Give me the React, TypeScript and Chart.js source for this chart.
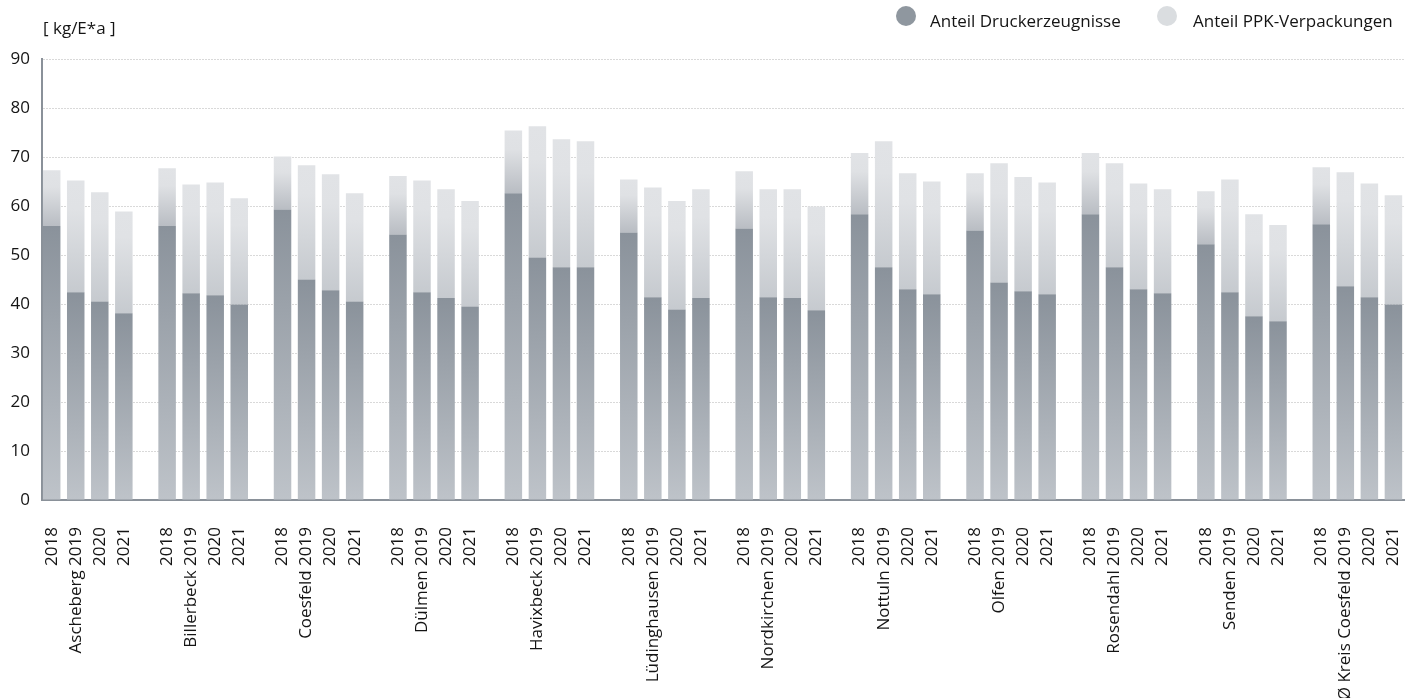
import React, { useEffect, useRef } from 'react';
import { Chart, registerables } from 'chart.js';

Chart.register(...registerables);

const groups = [
  'Ascheberg', 'Billerbeck', 'Coesfeld', 'Dülmen', 'Havixbeck', 'Lüdinghausen',
  'Nordkirchen', 'Nottuln', 'Olfen', 'Rosendahl', 'Senden', 'Ø Kreis Coesfeld',
];
const years = ['2018', '2019', '2020', '2021'];

// Anteil Druckerzeugnisse [kg/E*a], one value per municipality
const druck2018 = [55.9, 55.9, 59.3, 54.2, 62.6, 54.6, 55.4, 58.3, 55.0, 58.3, 52.2, 56.3];
const druck2019 = [42.4, 42.2, 45.0, 42.4, 49.5, 41.4, 41.4, 47.5, 44.4, 47.5, 42.4, 43.6];
const druck2020 = [40.5, 41.8, 42.8, 41.2, 47.5, 38.9, 41.2, 43.0, 42.6, 43.0, 37.5, 41.4];
const druck2021 = [38.1, 39.9, 40.5, 39.5, 47.5, 41.2, 38.7, 42.0, 42.0, 42.2, 36.5, 39.9];

// Anteil PPK-Verpackungen [kg/E*a]
const ppk2018 = [11.4, 11.8, 10.8, 11.9, 12.8, 10.8, 11.7, 12.5, 11.7, 12.5, 10.8, 11.6];
const ppk2019 = [22.8, 22.2, 23.3, 22.8, 26.8, 22.4, 22.0, 25.7, 24.3, 21.2, 23.0, 23.3];
const ppk2020 = [22.3, 23.0, 23.7, 22.2, 26.1, 22.1, 22.2, 23.7, 23.3, 21.6, 20.8, 23.2];
const ppk2021 = [20.8, 21.7, 22.1, 21.5, 25.7, 22.2, 21.2, 23.0, 22.8, 21.2, 19.6, 22.3];

const seriesLabels = ['Anteil Druckerzeugnisse', 'Anteil PPK-Verpackungen'];
const unitLabel = '[ kg/E*a ]';

const FONT = "'Open Sans', sans-serif";
const TEXT = '#141414';
const AXIS = '#8a9199';
const GROUP_STEP = 4.8;

const druckByYear = [druck2018, druck2019, druck2020, druck2021];
const ppkByYear = [ppk2018, ppk2019, ppk2020, ppk2021];

const xPos: number[] = [];
const xLabels: string[] = [];
const druck: number[] = [];
const ppk: number[] = [];
groups.forEach((g, gi) => {
  years.forEach((y, yi) => {
    xPos.push(gi * GROUP_STEP + yi);
    xLabels.push(yi === 1 ? `${g} ${y}` : y);
    druck.push(druckByYear[yi][gi]);
    ppk.push(ppkByYear[yi][gi]);
  });
});

function barFill(c: any, light: boolean): any {
  const chart = c.chart;
  const fallback = light ? '#dcdfe2' : '#98a0a8';
  if (c.type !== 'data' || !chart.chartArea || !chart.scales || !chart.scales.y) return fallback;
  const i = c.dataIndex;
  const ys = chart.scales.y;
  const lo = light ? druck[i] : 0;
  const hi = light ? druck[i] + ppk[i] : druck[i];
  const top = ys.getPixelForValue(hi);
  const bot = ys.getPixelForValue(lo);
  if (!isFinite(top) || !isFinite(bot) || bot - top < 1) return fallback;
  const g = chart.ctx.createLinearGradient(0, top, 0, bot);
  if (!light) {
    g.addColorStop(0, '#8a929b');
    g.addColorStop(1, '#bec3c9');
  } else if (i % 4 === 0) {
    g.addColorStop(0, '#e1e3e6');
    g.addColorStop(0.3, '#dfe1e4');
    g.addColorStop(1, '#b9bdc3');
  } else {
    g.addColorStop(0, '#e1e3e6');
    g.addColorStop(0.25, '#e0e2e5');
    g.addColorStop(1, '#c6cacf');
  }
  return g;
}

export default function App() {
  const canvasRef = useRef<HTMLCanvasElement | null>(null);

  useEffect(() => {
    if (!canvasRef.current) return;
    const chart = new Chart(canvasRef.current, {
      type: 'bar',
      data: {
        datasets: [
          {
            label: seriesLabels[0],
            data: xPos.map((x, i) => ({ x, y: druck[i] })),
            backgroundColor: (c: any) => barFill(c, false),
            borderWidth: 0,
            categoryPercentage: 0.8,
            barPercentage: 0.91,
          },
          {
            label: seriesLabels[1],
            data: xPos.map((x, i) => ({ x, y: ppk[i] })),
            backgroundColor: (c: any) => barFill(c, true),
            borderWidth: 0,
            categoryPercentage: 0.8,
            barPercentage: 0.91,
          },
        ],
      } as any,
      options: {
        animation: false,
        responsive: true,
        maintainAspectRatio: false,
        layout: { padding: { top: 59, right: 15, left: 0, bottom: 0 } },
        plugins: {
          legend: { display: false },
          tooltip: { enabled: false },
        },
        scales: {
          x: {
            type: 'linear',
            stacked: true,
            offset: false,
            min: -0.403,
            max: 56.24,
            grid: { display: false, offset: false },
            border: { display: true, color: AXIS, width: 2 },
            afterBuildTicks: (s: any) => {
              s.ticks = xPos.map((v) => ({ value: v }));
            },
            afterFit: (s: any) => {
              s.height = 198;
              s.paddingLeft = 0;
              s.paddingRight = 0;
            },
            ticks: {
              autoSkip: false,
              minRotation: 90,
              maxRotation: 90,
              padding: 19,
              color: TEXT,
              font: { family: FONT, size: 17 },
              callback: (_v: any, i: number) => xLabels[i],
            },
          },
          y: {
            stacked: true,
            min: 0,
            max: 90,
            ticks: {
              stepSize: 10,
              padding: 12,
              color: TEXT,
              font: { family: FONT, size: 17 },
            },
            grid: { color: '#d9d9d9', drawTicks: false, lineWidth: 1 },
            border: { display: true, color: AXIS, width: 2, dash: [2, 1] },
            afterFit: (s: any) => {
              s.width = 42;
            },
          },
        },
      } as any,
    });
    return () => chart.destroy();
  }, []);

  const textStyle: React.CSSProperties = {
    position: 'absolute',
    fontFamily: FONT,
    fontSize: '17px',
    lineHeight: '17px',
    color: TEXT,
    whiteSpace: 'nowrap',
  };
  const dot = (color: string, left: number): React.CSSProperties => ({
    position: 'absolute',
    left,
    top: 6,
    width: 20,
    height: 20,
    borderRadius: '50%',
    background: color,
  });

  return (
    <div style={{ position: 'absolute', left: 0, top: 0, width: 1419, height: 698, background: '#fff' }}>
      <canvas ref={canvasRef} />
      <span style={{ ...textStyle, left: 43, top: 19 }}>{unitLabel}</span>
      <div style={dot('#8f979f', 896)} />
      <span style={{ ...textStyle, left: 930, top: 12 }}>{seriesLabels[0]}</span>
      <div style={dot('#dadde0', 1157)} />
      <span style={{ ...textStyle, left: 1193, top: 12 }}>{seriesLabels[1]}</span>
    </div>
  );
}
